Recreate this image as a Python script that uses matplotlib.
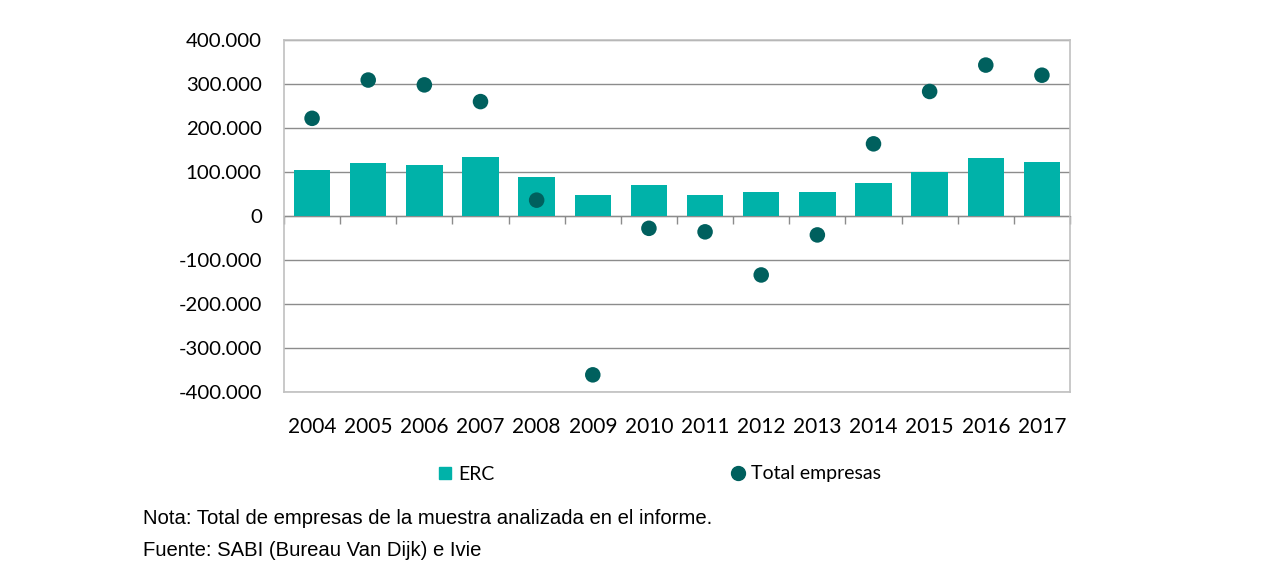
import matplotlib
matplotlib.use('Agg')
import matplotlib.pyplot as plt
import numpy as np

years = ['2004', '2005', '2006', '2007', '2008', '2009', '2010',
         '2011', '2012', '2013', '2014', '2015', '2016', '2017']
erc = [104000, 120000, 116000, 135000, 89000, 48000, 70000,
       48000, 55000, 55000, 74000, 101000, 131000, 123000]
total = [222000, 309000, 298000, 260000, 36000, -361000, -28000,
         -36000, -134000, -43000, 164000, 283000, 343000, 320000]
yticks = [-400000, -300000, -200000, -100000, 0, 100000, 200000, 300000, 400000]

BAR = '#00b2a9'
DOT = '#00605e'
GRID = '#8c8c8c'
BORDER = '#c0c0c0'

plt.rcParams['font.family'] = ['Lato', 'DejaVu Sans']

fig = plt.figure(figsize=(12.7, 5.76), dpi=100)
ax = fig.add_axes([284/1270, 1 - 392/576, 786/1270, 352/576])

x = np.arange(len(years))
ax.bar(x, erc, width=0.65, color=BAR, edgecolor='none', zorder=3)
ax.scatter(x, total, s=125, color=DOT, edgecolor='none', zorder=4)

ax.set_xlim(-0.5, len(years) - 0.5)
ax.set_ylim(-400000, 400000)
ax.set_yticks(yticks)
ax.set_yticklabels([f'{v:,}'.replace(',', '.') for v in yticks], fontsize=14.7)
ax.set_xticks(x)
ax.set_xticklabels(years, fontsize=15)
ax.tick_params(axis='both', length=0, colors='black')
ax.tick_params(axis='y', pad=16)
ax.tick_params(axis='x', pad=18)
for s in ax.spines.values():
    s.set_color(BORDER)
    s.set_linewidth(1.2)
ax.grid(axis='y', color=GRID, linewidth=1, zorder=0)

# zero axis with category boundary ticks
sec = ax.secondary_xaxis(0.5)
sec.set_xticks(np.arange(len(years) + 1) - 0.5)
sec.set_xticklabels([])
sec.tick_params(direction='in', length=6, width=1, color=GRID)
sec.spines['bottom'].set_color(GRID)
sec.spines['bottom'].set_linewidth(1.2)

handles = [plt.Line2D([], [], marker='s', linestyle='none', color=BAR, markersize=9),
           plt.Line2D([], [], marker='o', linestyle='none', color=DOT, markersize=10)]
fig.legend(handles, ['ERC', 'Total empresas'], loc='center',
           bbox_to_anchor=(0.519, 1 - 474/576), ncol=2,
           frameon=False, fontsize=14, columnspacing=12.1, handletextpad=0.3,
           handlelength=0.8)

fig.text(143/1270, 1 - 518/576, 'Nota: Total de empresas de la muestra analizada en el informe.',
         family='Liberation Sans', fontsize=14.6, va='center')
fig.text(143/1270, 1 - 551/576, 'Fuente: SABI (Bureau Van Dijk) e Ivie',
         family='Liberation Sans', fontsize=14.6, va='center')

fig.savefig('out.png', dpi=100, facecolor='white')
